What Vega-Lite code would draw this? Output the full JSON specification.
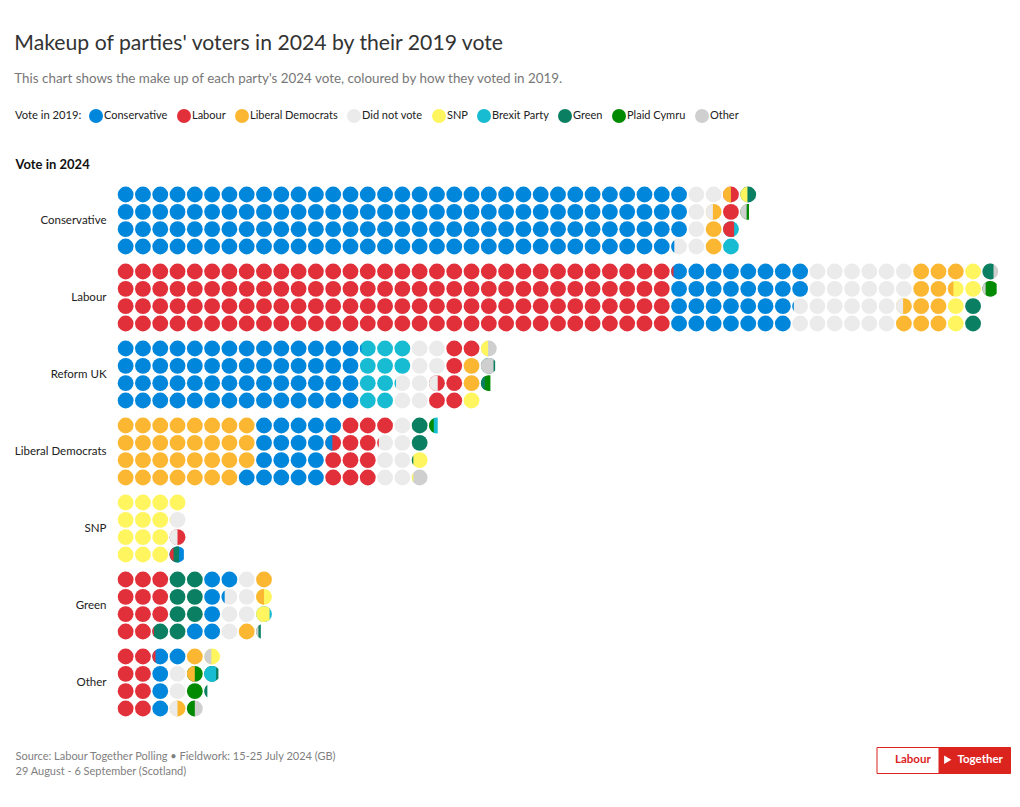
{
"$schema": "https://vega.github.io/schema/vega-lite/v6.json",
"width": 882,
"height": 539,
"padding": {"left": 14, "top": 33, "right": 6, "bottom": 16},
"config": {"font": "Lato", "view": {"stroke": null}},
"title": {"text": "Makeup of parties' voters in 2024 by their 2019 vote", "subtitle": "This chart shows the make up of each party's 2024 vote, coloured by how they voted in 2019.", "anchor": "start", "frame": "bounds", "fontSize": 21.2, "fontWeight": "normal", "color": "#333333", "subtitleFontSize": 13.4, "subtitleColor": "#777777", "subtitlePadding": 17, "offset": 24},
"datasets": {
"cols": [
{"party":"Conservative","col":0,"r1":"Conservative","r2":"Conservative","r3":"Conservative","r4":"Conservative"},
{"party":"Conservative","col":1,"r1":"Conservative","r2":"Conservative","r3":"Conservative","r4":"Conservative"},
{"party":"Conservative","col":2,"r1":"Conservative","r2":"Conservative","r3":"Conservative","r4":"Conservative"},
{"party":"Conservative","col":3,"r1":"Conservative","r2":"Conservative","r3":"Conservative","r4":"Conservative"},
{"party":"Conservative","col":4,"r1":"Conservative","r2":"Conservative","r3":"Conservative","r4":"Conservative"},
{"party":"Conservative","col":5,"r1":"Conservative","r2":"Conservative","r3":"Conservative","r4":"Conservative"},
{"party":"Conservative","col":6,"r1":"Conservative","r2":"Conservative","r3":"Conservative","r4":"Conservative"},
{"party":"Conservative","col":7,"r1":"Conservative","r2":"Conservative","r3":"Conservative","r4":"Conservative"},
{"party":"Conservative","col":8,"r1":"Conservative","r2":"Conservative","r3":"Conservative","r4":"Conservative"},
{"party":"Conservative","col":9,"r1":"Conservative","r2":"Conservative","r3":"Conservative","r4":"Conservative"},
{"party":"Conservative","col":10,"r1":"Conservative","r2":"Conservative","r3":"Conservative","r4":"Conservative"},
{"party":"Conservative","col":11,"r1":"Conservative","r2":"Conservative","r3":"Conservative","r4":"Conservative"},
{"party":"Conservative","col":12,"r1":"Conservative","r2":"Conservative","r3":"Conservative","r4":"Conservative"},
{"party":"Conservative","col":13,"r1":"Conservative","r2":"Conservative","r3":"Conservative","r4":"Conservative"},
{"party":"Conservative","col":14,"r1":"Conservative","r2":"Conservative","r3":"Conservative","r4":"Conservative"},
{"party":"Conservative","col":15,"r1":"Conservative","r2":"Conservative","r3":"Conservative","r4":"Conservative"},
{"party":"Conservative","col":16,"r1":"Conservative","r2":"Conservative","r3":"Conservative","r4":"Conservative"},
{"party":"Conservative","col":17,"r1":"Conservative","r2":"Conservative","r3":"Conservative","r4":"Conservative"},
{"party":"Conservative","col":18,"r1":"Conservative","r2":"Conservative","r3":"Conservative","r4":"Conservative"},
{"party":"Conservative","col":19,"r1":"Conservative","r2":"Conservative","r3":"Conservative","r4":"Conservative"},
{"party":"Conservative","col":20,"r1":"Conservative","r2":"Conservative","r3":"Conservative","r4":"Conservative"},
{"party":"Conservative","col":21,"r1":"Conservative","r2":"Conservative","r3":"Conservative","r4":"Conservative"},
{"party":"Conservative","col":22,"r1":"Conservative","r2":"Conservative","r3":"Conservative","r4":"Conservative"},
{"party":"Conservative","col":23,"r1":"Conservative","r2":"Conservative","r3":"Conservative","r4":"Conservative"},
{"party":"Conservative","col":24,"r1":"Conservative","r2":"Conservative","r3":"Conservative","r4":"Conservative"},
{"party":"Conservative","col":25,"r1":"Conservative","r2":"Conservative","r3":"Conservative","r4":"Conservative"},
{"party":"Conservative","col":26,"r1":"Conservative","r2":"Conservative","r3":"Conservative","r4":"Conservative"},
{"party":"Conservative","col":27,"r1":"Conservative","r2":"Conservative","r3":"Conservative","r4":"Conservative"},
{"party":"Conservative","col":28,"r1":"Conservative","r2":"Conservative","r3":"Conservative","r4":"Conservative"},
{"party":"Conservative","col":29,"r1":"Conservative","r2":"Conservative","r3":"Conservative","r4":"Conservative"},
{"party":"Conservative","col":30,"r1":"Conservative","r2":"Conservative","r3":"Conservative","r4":"Conservative"},
{"party":"Conservative","col":31,"r1":"Conservative","r2":"Conservative","r3":"Conservative","r4":"Conservative"},
{"party":"Conservative","col":32,"r1":"Conservative","r2":"Conservative","r3":"Conservative","r4":"Did not vote"},
{"party":"Conservative","col":33,"r1":"Did not vote","r2":"Did not vote","r3":"Did not vote","r4":"Did not vote"},
{"party":"Conservative","col":34,"r1":"Did not vote","r2":"Liberal Democrats","r3":"Liberal Democrats","r4":"Liberal Democrats"},
{"party":"Conservative","col":35,"r1":"Labour","r2":"Labour","r3":"Brexit Party","r4":"Brexit Party"},
{"party":"Conservative","col":36,"r1":"Green","r2":null,"r3":null,"r4":null},
{"party":"Labour","col":0,"r1":"Labour","r2":"Labour","r3":"Labour","r4":"Labour"},
{"party":"Labour","col":1,"r1":"Labour","r2":"Labour","r3":"Labour","r4":"Labour"},
{"party":"Labour","col":2,"r1":"Labour","r2":"Labour","r3":"Labour","r4":"Labour"},
{"party":"Labour","col":3,"r1":"Labour","r2":"Labour","r3":"Labour","r4":"Labour"},
{"party":"Labour","col":4,"r1":"Labour","r2":"Labour","r3":"Labour","r4":"Labour"},
{"party":"Labour","col":5,"r1":"Labour","r2":"Labour","r3":"Labour","r4":"Labour"},
{"party":"Labour","col":6,"r1":"Labour","r2":"Labour","r3":"Labour","r4":"Labour"},
{"party":"Labour","col":7,"r1":"Labour","r2":"Labour","r3":"Labour","r4":"Labour"},
{"party":"Labour","col":8,"r1":"Labour","r2":"Labour","r3":"Labour","r4":"Labour"},
{"party":"Labour","col":9,"r1":"Labour","r2":"Labour","r3":"Labour","r4":"Labour"},
{"party":"Labour","col":10,"r1":"Labour","r2":"Labour","r3":"Labour","r4":"Labour"},
{"party":"Labour","col":11,"r1":"Labour","r2":"Labour","r3":"Labour","r4":"Labour"},
{"party":"Labour","col":12,"r1":"Labour","r2":"Labour","r3":"Labour","r4":"Labour"},
{"party":"Labour","col":13,"r1":"Labour","r2":"Labour","r3":"Labour","r4":"Labour"},
{"party":"Labour","col":14,"r1":"Labour","r2":"Labour","r3":"Labour","r4":"Labour"},
{"party":"Labour","col":15,"r1":"Labour","r2":"Labour","r3":"Labour","r4":"Labour"},
{"party":"Labour","col":16,"r1":"Labour","r2":"Labour","r3":"Labour","r4":"Labour"},
{"party":"Labour","col":17,"r1":"Labour","r2":"Labour","r3":"Labour","r4":"Labour"},
{"party":"Labour","col":18,"r1":"Labour","r2":"Labour","r3":"Labour","r4":"Labour"},
{"party":"Labour","col":19,"r1":"Labour","r2":"Labour","r3":"Labour","r4":"Labour"},
{"party":"Labour","col":20,"r1":"Labour","r2":"Labour","r3":"Labour","r4":"Labour"},
{"party":"Labour","col":21,"r1":"Labour","r2":"Labour","r3":"Labour","r4":"Labour"},
{"party":"Labour","col":22,"r1":"Labour","r2":"Labour","r3":"Labour","r4":"Labour"},
{"party":"Labour","col":23,"r1":"Labour","r2":"Labour","r3":"Labour","r4":"Labour"},
{"party":"Labour","col":24,"r1":"Labour","r2":"Labour","r3":"Labour","r4":"Labour"},
{"party":"Labour","col":25,"r1":"Labour","r2":"Labour","r3":"Labour","r4":"Labour"},
{"party":"Labour","col":26,"r1":"Labour","r2":"Labour","r3":"Labour","r4":"Labour"},
{"party":"Labour","col":27,"r1":"Labour","r2":"Labour","r3":"Labour","r4":"Labour"},
{"party":"Labour","col":28,"r1":"Labour","r2":"Labour","r3":"Labour","r4":"Labour"},
{"party":"Labour","col":29,"r1":"Labour","r2":"Labour","r3":"Labour","r4":"Labour"},
{"party":"Labour","col":30,"r1":"Labour","r2":"Labour","r3":"Labour","r4":"Labour"},
{"party":"Labour","col":31,"r1":"Labour","r2":"Labour","r3":"Labour","r4":"Labour"},
{"party":"Labour","col":32,"r1":"Conservative","r2":"Conservative","r3":"Conservative","r4":"Conservative"},
{"party":"Labour","col":33,"r1":"Conservative","r2":"Conservative","r3":"Conservative","r4":"Conservative"},
{"party":"Labour","col":34,"r1":"Conservative","r2":"Conservative","r3":"Conservative","r4":"Conservative"},
{"party":"Labour","col":35,"r1":"Conservative","r2":"Conservative","r3":"Conservative","r4":"Conservative"},
{"party":"Labour","col":36,"r1":"Conservative","r2":"Conservative","r3":"Conservative","r4":"Conservative"},
{"party":"Labour","col":37,"r1":"Conservative","r2":"Conservative","r3":"Conservative","r4":"Conservative"},
{"party":"Labour","col":38,"r1":"Conservative","r2":"Conservative","r3":"Conservative","r4":"Conservative"},
{"party":"Labour","col":39,"r1":"Conservative","r2":"Conservative","r3":"Did not vote","r4":"Did not vote"},
{"party":"Labour","col":40,"r1":"Did not vote","r2":"Did not vote","r3":"Did not vote","r4":"Did not vote"},
{"party":"Labour","col":41,"r1":"Did not vote","r2":"Did not vote","r3":"Did not vote","r4":"Did not vote"},
{"party":"Labour","col":42,"r1":"Did not vote","r2":"Did not vote","r3":"Did not vote","r4":"Did not vote"},
{"party":"Labour","col":43,"r1":"Did not vote","r2":"Did not vote","r3":"Did not vote","r4":"Did not vote"},
{"party":"Labour","col":44,"r1":"Did not vote","r2":"Did not vote","r3":"Did not vote","r4":"Did not vote"},
{"party":"Labour","col":45,"r1":"Did not vote","r2":"Did not vote","r3":"Liberal Democrats","r4":"Liberal Democrats"},
{"party":"Labour","col":46,"r1":"Liberal Democrats","r2":"Liberal Democrats","r3":"Liberal Democrats","r4":"Liberal Democrats"},
{"party":"Labour","col":47,"r1":"Liberal Democrats","r2":"Liberal Democrats","r3":"Liberal Democrats","r4":"Liberal Democrats"},
{"party":"Labour","col":48,"r1":"Liberal Democrats","r2":"SNP","r3":"SNP","r4":"SNP"},
{"party":"Labour","col":49,"r1":"SNP","r2":"SNP","r3":"Green","r4":"Green"},
{"party":"Labour","col":50,"r1":"Other","r2":null,"r3":null,"r4":null},
{"party":"Reform UK","col":0,"r1":"Conservative","r2":"Conservative","r3":"Conservative","r4":"Conservative"},
{"party":"Reform UK","col":1,"r1":"Conservative","r2":"Conservative","r3":"Conservative","r4":"Conservative"},
{"party":"Reform UK","col":2,"r1":"Conservative","r2":"Conservative","r3":"Conservative","r4":"Conservative"},
{"party":"Reform UK","col":3,"r1":"Conservative","r2":"Conservative","r3":"Conservative","r4":"Conservative"},
{"party":"Reform UK","col":4,"r1":"Conservative","r2":"Conservative","r3":"Conservative","r4":"Conservative"},
{"party":"Reform UK","col":5,"r1":"Conservative","r2":"Conservative","r3":"Conservative","r4":"Conservative"},
{"party":"Reform UK","col":6,"r1":"Conservative","r2":"Conservative","r3":"Conservative","r4":"Conservative"},
{"party":"Reform UK","col":7,"r1":"Conservative","r2":"Conservative","r3":"Conservative","r4":"Conservative"},
{"party":"Reform UK","col":8,"r1":"Conservative","r2":"Conservative","r3":"Conservative","r4":"Conservative"},
{"party":"Reform UK","col":9,"r1":"Conservative","r2":"Conservative","r3":"Conservative","r4":"Conservative"},
{"party":"Reform UK","col":10,"r1":"Conservative","r2":"Conservative","r3":"Conservative","r4":"Conservative"},
{"party":"Reform UK","col":11,"r1":"Conservative","r2":"Conservative","r3":"Conservative","r4":"Conservative"},
{"party":"Reform UK","col":12,"r1":"Conservative","r2":"Conservative","r3":"Conservative","r4":"Conservative"},
{"party":"Reform UK","col":13,"r1":"Conservative","r2":"Conservative","r3":"Conservative","r4":"Conservative"},
{"party":"Reform UK","col":14,"r1":"Brexit Party","r2":"Brexit Party","r3":"Brexit Party","r4":"Brexit Party"},
{"party":"Reform UK","col":15,"r1":"Brexit Party","r2":"Brexit Party","r3":"Brexit Party","r4":"Brexit Party"},
{"party":"Reform UK","col":16,"r1":"Brexit Party","r2":"Brexit Party","r3":"Did not vote","r4":"Did not vote"},
{"party":"Reform UK","col":17,"r1":"Did not vote","r2":"Did not vote","r3":"Did not vote","r4":"Did not vote"},
{"party":"Reform UK","col":18,"r1":"Did not vote","r2":"Did not vote","r3":"Labour","r4":"Labour"},
{"party":"Reform UK","col":19,"r1":"Labour","r2":"Labour","r3":"Labour","r4":"Labour"},
{"party":"Reform UK","col":20,"r1":"Labour","r2":"Liberal Democrats","r3":"Liberal Democrats","r4":"SNP"},
{"party":"Reform UK","col":21,"r1":"Other","r2":null,"r3":null,"r4":null},
{"party":"Liberal Democrats","col":0,"r1":"Liberal Democrats","r2":"Liberal Democrats","r3":"Liberal Democrats","r4":"Liberal Democrats"},
{"party":"Liberal Democrats","col":1,"r1":"Liberal Democrats","r2":"Liberal Democrats","r3":"Liberal Democrats","r4":"Liberal Democrats"},
{"party":"Liberal Democrats","col":2,"r1":"Liberal Democrats","r2":"Liberal Democrats","r3":"Liberal Democrats","r4":"Liberal Democrats"},
{"party":"Liberal Democrats","col":3,"r1":"Liberal Democrats","r2":"Liberal Democrats","r3":"Liberal Democrats","r4":"Liberal Democrats"},
{"party":"Liberal Democrats","col":4,"r1":"Liberal Democrats","r2":"Liberal Democrats","r3":"Liberal Democrats","r4":"Liberal Democrats"},
{"party":"Liberal Democrats","col":5,"r1":"Liberal Democrats","r2":"Liberal Democrats","r3":"Liberal Democrats","r4":"Liberal Democrats"},
{"party":"Liberal Democrats","col":6,"r1":"Liberal Democrats","r2":"Liberal Democrats","r3":"Liberal Democrats","r4":"Liberal Democrats"},
{"party":"Liberal Democrats","col":7,"r1":"Liberal Democrats","r2":"Liberal Democrats","r3":"Liberal Democrats","r4":"Conservative"},
{"party":"Liberal Democrats","col":8,"r1":"Conservative","r2":"Conservative","r3":"Conservative","r4":"Conservative"},
{"party":"Liberal Democrats","col":9,"r1":"Conservative","r2":"Conservative","r3":"Conservative","r4":"Conservative"},
{"party":"Liberal Democrats","col":10,"r1":"Conservative","r2":"Conservative","r3":"Conservative","r4":"Conservative"},
{"party":"Liberal Democrats","col":11,"r1":"Conservative","r2":"Conservative","r3":"Conservative","r4":"Conservative"},
{"party":"Liberal Democrats","col":12,"r1":"Conservative","r2":"Labour","r3":"Labour","r4":"Labour"},
{"party":"Liberal Democrats","col":13,"r1":"Labour","r2":"Labour","r3":"Labour","r4":"Labour"},
{"party":"Liberal Democrats","col":14,"r1":"Labour","r2":"Labour","r3":"Labour","r4":"Labour"},
{"party":"Liberal Democrats","col":15,"r1":"Labour","r2":"Did not vote","r3":"Did not vote","r4":"Did not vote"},
{"party":"Liberal Democrats","col":16,"r1":"Did not vote","r2":"Did not vote","r3":"Did not vote","r4":"Did not vote"},
{"party":"Liberal Democrats","col":17,"r1":"Green","r2":"Green","r3":"SNP","r4":"Other"},
{"party":"SNP","col":0,"r1":"SNP","r2":"SNP","r3":"SNP","r4":"SNP"},
{"party":"SNP","col":1,"r1":"SNP","r2":"SNP","r3":"SNP","r4":"SNP"},
{"party":"SNP","col":2,"r1":"SNP","r2":"SNP","r3":"SNP","r4":"SNP"},
{"party":"SNP","col":3,"r1":"SNP","r2":"Did not vote","r3":"Labour","r4":null},
{"party":"Green","col":0,"r1":"Labour","r2":"Labour","r3":"Labour","r4":"Labour"},
{"party":"Green","col":1,"r1":"Labour","r2":"Labour","r3":"Labour","r4":"Labour"},
{"party":"Green","col":2,"r1":"Labour","r2":"Labour","r3":"Labour","r4":"Green"},
{"party":"Green","col":3,"r1":"Green","r2":"Green","r3":"Green","r4":"Green"},
{"party":"Green","col":4,"r1":"Green","r2":"Green","r3":"Green","r4":"Conservative"},
{"party":"Green","col":5,"r1":"Conservative","r2":"Conservative","r3":"Conservative","r4":"Conservative"},
{"party":"Green","col":6,"r1":"Conservative","r2":"Did not vote","r3":"Did not vote","r4":"Did not vote"},
{"party":"Green","col":7,"r1":"Did not vote","r2":"Did not vote","r3":"Did not vote","r4":"Liberal Democrats"},
{"party":"Green","col":8,"r1":"Liberal Democrats","r2":"SNP","r3":"Brexit Party","r4":null},
{"party":"Other","col":0,"r1":"Labour","r2":"Labour","r3":"Labour","r4":"Labour"},
{"party":"Other","col":1,"r1":"Labour","r2":"Labour","r3":"Labour","r4":"Labour"},
{"party":"Other","col":2,"r1":"Conservative","r2":"Conservative","r3":"Conservative","r4":"Conservative"},
{"party":"Other","col":3,"r1":"Conservative","r2":"Did not vote","r3":"Did not vote","r4":"Liberal Democrats"},
{"party":"Other","col":4,"r1":"Liberal Democrats","r2":"Plaid Cymru","r3":"Plaid Cymru","r4":"Other"},
{"party":"Other","col":5,"r1":"SNP","r2":null,"r3":null,"r4":null}
],
"slices": [
{"party":"Conservative","col":32,"row":"r4","vote":"Conservative","cut":0.2},
{"party":"Conservative","col":34,"row":"r2","vote":"Did not vote","cut":0.45},
{"party":"Conservative","col":35,"row":"r1","vote":"Liberal Democrats","cut":0.5},
{"party":"Conservative","col":35,"row":"r3","vote":"Labour","cut":0.7},
{"party":"Conservative","col":36,"row":"r1","vote":"SNP","cut":0.45},
{"party":"Conservative","col":36,"row":"r2","vote":"Plaid Cymru","cut":0.55},
{"party":"Conservative","col":36,"row":"r2","vote":"Other","cut":0.4},
{"party":"Labour","col":32,"row":"r1","vote":"Labour","cut":0.15},
{"party":"Labour","col":39,"row":"r3","vote":"Conservative","cut":0.1},
{"party":"Labour","col":45,"row":"r3","vote":"Did not vote","cut":0.45},
{"party":"Labour","col":48,"row":"r2","vote":"Liberal Democrats","cut":0.35},
{"party":"Labour","col":50,"row":"r1","vote":"Green","cut":0.7},
{"party":"Labour","col":50,"row":"r2","vote":"Plaid Cymru","cut":0.9},
{"party":"Labour","col":50,"row":"r2","vote":"Other","cut":0.2},
{"party":"Reform UK","col":14,"row":"r1","vote":"Conservative","cut":0.1},
{"party":"Reform UK","col":16,"row":"r3","vote":"Brexit Party","cut":0.1},
{"party":"Reform UK","col":18,"row":"r3","vote":"Did not vote","cut":0.55},
{"party":"Reform UK","col":21,"row":"r1","vote":"SNP","cut":0.45},
{"party":"Reform UK","col":21,"row":"r2","vote":"Green","cut":0.9},
{"party":"Reform UK","col":21,"row":"r2","vote":"Other","cut":0.8},
{"party":"Reform UK","col":21,"row":"r3","vote":"Plaid Cymru","cut":0.6},
{"party":"Reform UK","col":21,"row":"r3","vote":"Green","cut":0.25},
{"party":"Liberal Democrats","col":12,"row":"r2","vote":"Conservative","cut":0.45},
{"party":"Liberal Democrats","col":15,"row":"r2","vote":"Labour","cut":0.1},
{"party":"Liberal Democrats","col":17,"row":"r3","vote":"Green","cut":0.1},
{"party":"Liberal Democrats","col":17,"row":"r4","vote":"SNP","cut":0.1},
{"party":"Liberal Democrats","col":18,"row":"r1","vote":"Brexit Party","cut":0.55},
{"party":"Liberal Democrats","col":18,"row":"r1","vote":"Plaid Cymru","cut":0.3},
{"party":"SNP","col":3,"row":"r2","vote":"SNP","cut":0.05},
{"party":"SNP","col":3,"row":"r3","vote":"Did not vote","cut":0.5},
{"party":"SNP","col":3,"row":"r4","vote":"Conservative","cut":0.9},
{"party":"SNP","col":3,"row":"r4","vote":"Green","cut":0.6},
{"party":"SNP","col":3,"row":"r4","vote":"Labour","cut":0.25},
{"party":"Green","col":2,"row":"r4","vote":"Labour","cut":0.1},
{"party":"Green","col":6,"row":"r2","vote":"Conservative","cut":0.2},
{"party":"Green","col":8,"row":"r2","vote":"Liberal Democrats","cut":0.5},
{"party":"Green","col":8,"row":"r3","vote":"SNP","cut":0.85},
{"party":"Green","col":8,"row":"r4","vote":"Green","cut":0.3},
{"party":"Green","col":8,"row":"r4","vote":"Other","cut":0.15},
{"party":"Other","col":2,"row":"r1","vote":"Labour","cut":0.2},
{"party":"Other","col":3,"row":"r4","vote":"Did not vote","cut":0.5},
{"party":"Other","col":4,"row":"r2","vote":"Liberal Democrats","cut":0.5},
{"party":"Other","col":4,"row":"r4","vote":"Plaid Cymru","cut":0.5},
{"party":"Other","col":5,"row":"r1","vote":"Other","cut":0.45},
{"party":"Other","col":5,"row":"r2","vote":"Green","cut":0.9},
{"party":"Other","col":5,"row":"r2","vote":"Brexit Party","cut":0.75},
{"party":"Other","col":5,"row":"r3","vote":"Green","cut":0.2}
]
},
"encoding": {
"x": {"field": "col", "type": "quantitative", "scale": {"domain": [-0.5, 50.5], "nice": false, "zero": false}, "axis": {"title": ["Source: Labour Together Polling • Fieldwork: 15-25 July 2024 (GB)", "29 August - 6 September (Scotland)"], "labels": false, "ticks": false, "domain": false, "grid": false, "titleAnchor": "start", "titleAlign": "left", "titleBaseline": "top", "titleX": -102, "titleY": 29, "titleFontSize": 11, "titleFontWeight": "normal", "titleColor": "#808080", "titleLineHeight": 15}},
"y": {"field": "party", "type": "nominal", "sort": ["Conservative", "Labour", "Reform UK", "Liberal Democrats", "SNP", "Green", "Other"], "scale": {"type": "band", "paddingInner": 0.1, "paddingOuter": 0.05}, "axis": {"title": "Vote in 2024", "domain": false, "ticks": false, "grid": false, "labelPadding": 11, "labelFontSize": 11.5, "labelColor": "#222222", "titleAngle": 0, "titleAlign": "left", "titleBaseline": "alphabetic", "titleX": -102, "titleY": -14, "titleFontSize": 13, "titleFontWeight": "bold", "titleColor": "#111111"}},
"yOffset": {"field": "row", "type": "nominal", "scale": {"type": "point", "domain": ["r1", "r2", "r3", "r4"], "padding": 0.5}},
"color": {"field": "vote", "type": "nominal", "scale": {"domain": ["Conservative", "Labour", "Liberal Democrats", "Did not vote", "SNP", "Brexit Party", "Green", "Plaid Cymru", "Other"], "range": ["#0087dc", "#e2303a", "#fbb731", "#ebebeb", "#fff55f", "#17bcd3", "#0b7f62", "#038a03", "#cfcfcf"]}, "legend": {"title": "Vote in 2019:", "orient": "none", "legendX": -102, "legendY": -73, "direction": "horizontal", "columns": 9, "titleOrient": "left", "titleBaseline": "middle", "titleFontSize": 11.2, "titleFontWeight": "normal", "titleColor": "#222222", "titlePadding": 7, "symbolType": "circle", "symbolSize": 196, "symbolStrokeWidth": 0, "labelFontSize": 11, "labelColor": "#222222", "labelOffset": 1, "columnPadding": 9}}
},
"layer": [
{"data": {"name": "cols"}, "transform": [{"fold": ["r1", "r2", "r3", "r4"], "as": ["row", "vote"]}, {"filter": "datum.vote != null"}], "mark": {"type": "point", "filled": true, "size": 250, "opacity": 1, "strokeWidth": 0, "shape": "circle"},
 "encoding": {
  "strokeDash": {"datum": "Labour", "type": "nominal", "scale": {"range": [[1, 0]]}, "legend": {"title": null, "orient": "none", "legendX": 759.5, "legendY": 565, "symbolOpacity": 0, "symbolSize": 0, "symbolStrokeWidth": 0, "labelOffset": 0, "labelFontSize": 11.5, "labelFontWeight": "bold", "labelColor": "#dc241f", "padding": 7, "fillColor": "#ffffff", "strokeColor": "#dc241f"}},
  "stroke": {"datum": "Together", "type": "nominal", "scale": {"range": ["transparent"]}, "legend": {"title": null, "orient": "none", "legendX": 818, "legendY": 565, "symbolType": "triangle-right", "symbolSize": 70, "symbolFillColor": "#ffffff", "symbolStrokeColor": "#ffffff", "symbolStrokeWidth": 0, "labelOffset": 4, "labelFontSize": 11.5, "labelFontWeight": "bold", "labelColor": "#ffffff", "padding": 7, "fillColor": "#dc241f", "strokeColor": "#dc241f"}}
 }},
{"data": {"name": "slices"}, "mark": {"type": "point", "filled": true, "size": 250, "opacity": 1, "strokeWidth": 0},
 "encoding": {
  "shape": {"field": "cut", "type": "ordinal", "legend": null, "scale": {"domain": [0.05, 0.1, 0.15, 0.2, 0.25, 0.3, 0.35, 0.4, 0.45, 0.5, 0.55, 0.6, 0.65, 0.7, 0.75, 0.8, 0.85, 0.9], "range": [
   "M -0.9 -0.4359 A 1 1 0 0 0 -0.9 0.4359 Z",
   "M -0.8 -0.6 A 1 1 0 0 0 -0.8 0.6 Z",
   "M -0.7 -0.7141 A 1 1 0 0 0 -0.7 0.7141 Z",
   "M -0.6 -0.8 A 1 1 0 0 0 -0.6 0.8 Z",
   "M -0.5 -0.866 A 1 1 0 0 0 -0.5 0.866 Z",
   "M -0.4 -0.9165 A 1 1 0 0 0 -0.4 0.9165 Z",
   "M -0.3 -0.9539 A 1 1 0 0 0 -0.3 0.9539 Z",
   "M -0.2 -0.9798 A 1 1 0 0 0 -0.2 0.9798 Z",
   "M -0.1 -0.995 A 1 1 0 0 0 -0.1 0.995 Z",
   "M 0 -1 A 1 1 0 0 0 0 1 Z",
   "M 0.1 -0.995 A 1 1 0 1 0 0.1 0.995 Z",
   "M 0.2 -0.9798 A 1 1 0 1 0 0.2 0.9798 Z",
   "M 0.3 -0.9539 A 1 1 0 1 0 0.3 0.9539 Z",
   "M 0.4 -0.9165 A 1 1 0 1 0 0.4 0.9165 Z",
   "M 0.5 -0.866 A 1 1 0 1 0 0.5 0.866 Z",
   "M 0.6 -0.8 A 1 1 0 1 0 0.6 0.8 Z",
   "M 0.7 -0.7141 A 1 1 0 1 0 0.7 0.7141 Z",
   "M 0.8 -0.6 A 1 1 0 1 0 0.8 0.6 Z"
  ]}},
  "order": {"field": "cut", "type": "quantitative", "sort": "descending"}
 }}
]
}
